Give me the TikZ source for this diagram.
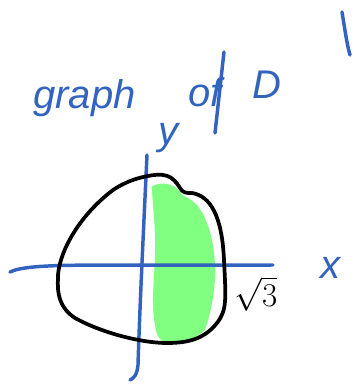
\documentclass[tikz,border=0pt]{standalone}
\usepackage{fontspec}
\setmainfont{Liberation Sans}
\definecolor{pen}{HTML}{3263BE}
\definecolor{hl}{HTML}{80FF80}
\tikzset{
  bluepen/.style={draw=pen,line width=2.6pt,line cap=round,line join=round},
  blackpen/.style={draw=black,line width=2.8pt,line cap=round,line join=round},
  hand/.style={text=pen,font=\itshape\fontsize{30}{30}\selectfont,inner sep=0pt},
  blacktext/.style={text=black,font=\fontsize{30}{30}\selectfont,inner sep=0pt}
}
\begin{document}
\begin{tikzpicture}[x=0.75pt,y=-0.75pt]
\useasboundingbox (0,0) rectangle (357,386);
% highlighted region
\fill[hl] (152,186) .. controls (165,180) and (178,186) .. (182,195)
  .. controls (195,200) and (205,210) .. (212,240)
  .. controls (218,270) and (215,300) .. (205,330)
  .. controls (195,340) and (180,343) .. (168,343)
  .. controls (160,342) and (156,335) .. (155,325)
  .. controls (150,300) and (156,270) .. (155,240)
  .. controls (155,220) and (152,200) .. (152,186) -- cycle;
% axes
\draw[bluepen] (10,272) .. controls (30,262) and (100,266) .. (273,265);
\draw[bluepen] (147,155) .. controls (144,220) and (140,300) .. (138,365) .. controls (137,375) and (134,378) .. (130,380);
% boundary curve
\draw[blackpen] (143,177) .. controls (165,172) and (172,175) .. (180,188)
  .. controls (183,193) and (186,193) .. (192,193)
  .. controls (210,196) and (222,215) .. (224,260)
  .. controls (226,300) and (227,310) .. (217,323)
  .. controls (205,338) and (190,343) .. (167,343)
  .. controls (140,343) and (100,332) .. (75,318)
  .. controls (55,305) and (58,285) .. (58,275)
  .. controls (60,250) and (80,215) .. (113,190)
  .. controls (125,182) and (135,179) .. (143,177) -- cycle;
% texts
\node[hand,anchor=west] (g) at (33,98) {graph};
\node[hand,anchor=west] (of) at (188,92) {of};
\node[hand,anchor=west] (D) at (252,85) {D};
\draw[bluepen] (224,52) -- (215,133);
\draw[bluepen] (342,12) .. controls (345,30) and (347,45) .. (350,55);
\node[hand] (y) at (168,138) {y};
\node[hand] (x) at (330,268) {x};
\node[blacktext] (r) at (256,294) {$\sqrt{3}$};
\end{tikzpicture}
\end{document}
